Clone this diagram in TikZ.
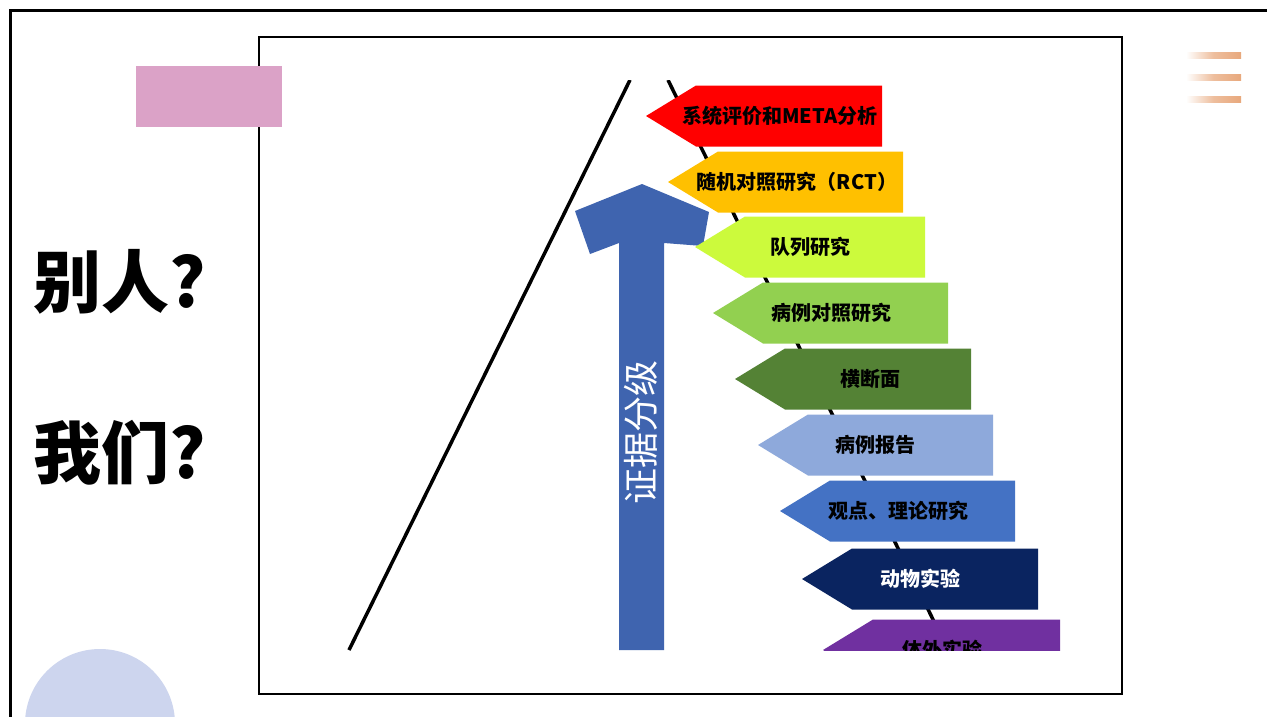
\documentclass[tikz,border=0pt]{standalone}
\usepackage{fontspec}
\setmainfont{Noto Sans CJK SC}
\definecolor{pinkbox}{RGB}{219,162,199}
\definecolor{circblue}{RGB}{205,213,238}
\definecolor{stripe}{RGB}{232,168,124}
\definecolor{bigblue}{RGB}{63,100,175}
\definecolor{cRed}{RGB}{255,0,0}
\definecolor{cOrange}{RGB}{255,192,0}
\definecolor{cLime}{RGB}{204,250,60}
\definecolor{cLgreen}{RGB}{146,208,80}
\definecolor{cDgreen}{RGB}{84,130,53}
\definecolor{cLblue}{RGB}{142,169,219}
\definecolor{cBlue}{RGB}{68,114,196}
\definecolor{cNavy}{RGB}{10,36,96}
\definecolor{cPurple}{RGB}{112,48,160}
\newcommand{\evarrow}[8]{%
  \fill[#5] (#2,#3) -- (#2+50,#3-30.5) -- (#4,#3-30.5) -- (#4,#3+30.5) -- (#2+50,#3+30.5) -- cycle;
  \node[evlabel, text=#6] (#1) at (#7,#3) {#8};
}
\tikzset{
  evlabel/.style={font=\bfseries\fontsize{20}{23}\selectfont, inner sep=0pt},
  bigq/.style={font=\bfseries\fontsize{68}{78}\selectfont, anchor=west, inner sep=0pt},
  diag/.style={line width=3.5pt},
}
\begin{document}
\begin{tikzpicture}[x=1pt,y=-1pt]
\useasboundingbox (0,0) rectangle (1267,716);
\clip (0,0) rectangle (1267,716);
\fill[white] (0,0) rectangle (1267,716);
% outer frame (runs off the right and bottom)
\draw[line width=3pt] (10,740) -- (10,10) -- (1290,10);
% decorative circle
\fill[circblue] (100,724) circle (75);
% stripes
\foreach \yy in {55,77,99} {
  \shade[left color=white, right color=stripe, middle color=stripe!75] (1186,\yy-3) rectangle (1241,\yy+3);
}
% questions
\node[bigq] (q1) at (33,282) {别人?};
\node[bigq] (q2) at (33,453) {我们?};
% inner frame
\draw[line width=2pt] (259,37) rectangle (1122,694);
% pink box
\fill[pinkbox] (136,66) rectangle (282,127);
% diagram
\begin{scope}
\clip (259,80) rectangle (1122,650);
\coordinate (l1a) at (630,80);
\coordinate (l1b) at (349,650);
\coordinate (l2a) at (668,80);
\coordinate (l2b) at (948,650);
\draw[diag] (l1a) -- (l1b);
\draw[diag] (l2a) -- (l2b);
\fill[bigblue] (642,184) -- (709,212) -- (703,246) -- (664,243) -- (664,650) -- (619,650) -- (619,243) -- (590,254) -- (575,211) -- cycle;
\node[text=white, rotate=90, font=\fontsize{36}{40}\selectfont, inner sep=0pt] (lvl) at (641,432) {证据分级};
\evarrow{a1}{646}{116}{882}{cRed}{black}{780}{系统评价和META分析}
\evarrow{a2}{668}{182}{903}{cOrange}{black}{797}{随机对照研究（RCT）}
\evarrow{a3}{695}{247}{925}{cLime}{black}{810}{队列研究}
\evarrow{a4}{713}{313}{948}{cLgreen}{black}{831}{病例对照研究}
\evarrow{a5}{735}{379}{971}{cDgreen}{black}{870}{横断面}
\evarrow{a6}{758}{445}{993}{cLblue}{black}{875}{病例报告}
\evarrow{a7}{780}{511}{1015}{cBlue}{black}{898}{观点、理论研究}
\evarrow{a8}{802}{579}{1038}{cNavy}{white}{920}{动物实验}
\evarrow{a9}{823}{650}{1060}{cPurple}{black}{942}{体外实验}
\end{scope}
\end{tikzpicture}
\end{document}
